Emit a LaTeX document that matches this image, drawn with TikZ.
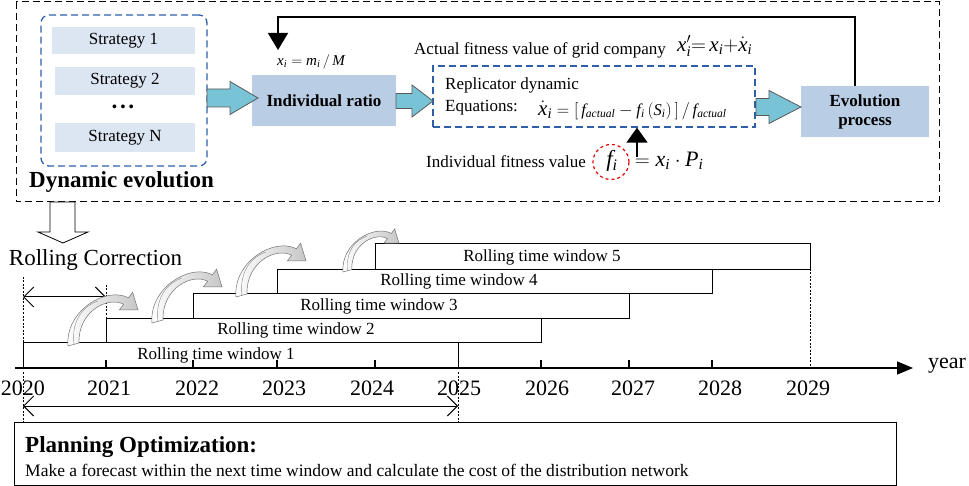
\documentclass[tikz,border=0pt]{standalone}
\usepackage{fontspec}
\setmainfont{Liberation Serif}
\usetikzlibrary{arrows.meta,calc,shapes.geometric}
\definecolor{stratfill}{RGB}{220,230,242}
\definecolor{boxfill}{RGB}{185,205,229}
\definecolor{dashblue}{RGB}{46,96,170}
\definecolor{fatfill}{RGB}{120,196,214}
\newcommand{\fsz}[1]{\fontsize{#1}{#1}\selectfont}
\newcommand{\mi}[1]{\mathit{#1}}
\newcommand{\fatarrow}[6]{\draw[fat] (#1,#4-#5) -- (#3,#4-#5) -- (#3,#4-#6) -- (#2,#4) -- (#3,#4+#6) -- (#3,#4+#5) -- (#1,#4+#5) -- cycle;}
\tikzset{
  lbl/.style={inner sep=0pt, font=\fsz{17}},
  stratbox/.style={fill=stratfill, inner sep=0pt, font=\fsz{17}},
  bluebox/.style={fill=boxfill, inner sep=0pt, font=\fsz{17}\bfseries, align=center},
  fat/.style={fill=fatfill, draw=black!65, line width=0.8pt},
  outerdash/.style={draw, line width=1pt, dash pattern=on 7pt off 4pt},
  bluedash/.style={draw=dashblue, line width=1.3pt, dash pattern=on 7pt off 4pt},
  win/.style={draw, line width=1.2pt},
  dotv/.style={line width=1pt, dash pattern=on 2pt off 1.5pt},
  dimarrow/.style={{Straight Barb[length=10pt,width=20pt]}-{Straight Barb[length=10pt,width=20pt]}, line width=1pt},
  curv/.style={left color=white, right color=black!22, draw=black!55, line width=0.5pt},
  curvarrow/.pic={
    \path[curv] (0,0) .. controls (-3,-35) and (38,-60) .. (60.4,-48.2)
      -- (64.6,-53.8) -- (70,-36) -- (51.4,-36.2) -- (55.6,-41.8)
      .. controls (40,-50) and (10,-35) .. (11,-3) -- cycle;
    \draw[black!45, line width=0.4pt] (6,-1.5) .. controls (3,-25) and (15,-40) .. (30,-45);
  }
}
\begin{document}
\begin{tikzpicture}[x=1pt,y=-1pt]
\useasboundingbox (0,0) rectangle (969,486);
% ---------- top dashed frame ----------
\draw[outerdash] (16,2) rectangle (939,202);
% strategy container
\node[bluedash, rounded corners=8pt, minimum width=166pt, minimum height=151pt, inner sep=0pt] (strat) at (124,90.5) {};
\node[stratbox, minimum width=143pt, minimum height=27pt] (s1) at (123.5,40.5) {Strategy 1};
\node[stratbox, minimum width=140pt, minimum height=28pt] (s2) at (125,81) {Strategy 2};
\node[inner sep=0pt, font=\fsz{14}\bfseries] (sdots) at (123,108) {• • •};
\node[stratbox, minimum width=140pt, minimum height=29pt] (sN) at (125,137.5) {Strategy N};
\node[inner sep=0pt, font=\fsz{23}\bfseries] (dyn) at (121.5,182) {Dynamic evolution};
% individual ratio
\node[bluebox, minimum width=144pt, minimum height=51pt] (ratio) at (324,100.5) {Individual ratio};
\node[inner sep=0pt, font=\fsz{15}] (xlab) at (311,62) {$\mi{x}_{\mi{i}} = \mi{m}_{\mi{i}}\,/\,\mi{M}$};
% replicator
\node[bluedash, minimum width=322pt, minimum height=61pt, inner sep=0pt] (rep) at (594,96.5) {};
\node[lbl, anchor=west] (replab) at (445,85) {Replicator dynamic};
\node[lbl, anchor=west] (eqlab) at (445,108) {Equations:};
\node[inner sep=0pt, anchor=west] (eq) at (538,110) {{\fsz{21}$\dot{\mi{x}}_{\mi{i}}$}{\fsz{16.5}${}=[\,\mi{f}_{\mi{actual}} - \mi{f}_{\mi{i}}\,(\mi{S}_{\mi{i}})\,]\,/\,\mi{f}_{\mi{actual}}$}};
% evolution
\node[bluebox, minimum width=128pt, minimum height=51pt] (evo) at (865,111.5) {Evolution\\[2pt]process};
% labels
\node[lbl, anchor=west] (actual) at (414,50) {Actual fitness value of grid company};
\node[inner sep=0pt, anchor=west, font=\fsz{21}] (xprime) at (677,46) {$\mi{x}_{\mi{i}}'{=}\,\mi{x}_{\mi{i}}{+}\dot{\mi{x}}_{\mi{i}}$};
\node[lbl, anchor=west] (indfit) at (426,162) {Individual fitness value};
\node[draw=red!90!black, dashed, ellipse, line width=1.2pt, minimum width=36pt, minimum height=35pt, inner sep=0pt] (fic) at (611,162) {};
\node[inner sep=0pt, font=\fsz{23}] (fi) at (612,161) {$\mi{f}_{\mi{i}}$};
\node[inner sep=0pt, anchor=west, font=\fsz{22}] (fieq) at (629,161) {${}= \mi{x}_{\mi{i}}\cdot \mi{P}_{\mi{i}}$};
% fat arrows
\fatarrow{207}{258}{230}{98}{9}{16.5}
\fatarrow{396}{433}{412}{101}{7.5}{16}
\fatarrow{756}{801}{769}{107}{8.5}{16.5}
% feedback
\coordinate (fbend) at (278,50);
\draw[line width=1.5pt, -{Triangle[width=20pt,length=17pt]}] ([xshift=-10pt]evo.north) |- (278,17) -- (fbend);
\coordinate (fibase) at (637,157);
\draw[line width=1.5pt, -{Triangle[width=21pt,length=15pt]}] (fibase) -- (fibase |- rep.south);
% ---------- hollow down arrow ----------
\draw[line width=0.8pt, fill=white] (50,202) -- (75,202) -- (75,232) -- (88,232) -- (63,243) -- (38,232) -- (50,232) -- cycle;
\node[inner sep=0pt, font=\fsz{23}] (rc) at (95.5,260) {Rolling Correction};
\coordinate (rc1) at (23,297);
\coordinate (rc2) at (106,297);
\draw[dimarrow] (rc1) -- (rc2);
\draw[dotv] (23,277) -- (23,342);
\draw[dotv] (106,285) -- (106,318);
% ---------- windows ----------
\node[win, anchor=north west, minimum width=435pt, minimum height=26pt, inner sep=0pt] (w1) at (23,342) {};
\node[win, anchor=north west, minimum width=435pt, minimum height=24pt, inner sep=0pt] (w2) at (106,318) {};
\node[win, anchor=north west, minimum width=436pt, minimum height=25pt, inner sep=0pt] (w3) at (193,293) {};
\node[win, anchor=north west, minimum width=435pt, minimum height=24pt, inner sep=0pt] (w4) at (277,269) {};
\node[win, anchor=north west, minimum width=435pt, minimum height=26pt, inner sep=0pt] (w5) at (375,243) {};
\node[lbl] (l1) at (216,355) {Rolling time window 1};
\node[lbl] (l2) at (296,330) {Rolling time window 2};
\node[lbl] (l3) at (379,306) {Rolling time window 3};
\node[lbl] (l4) at (459,281) {Rolling time window 4};
\node[lbl] (l5) at (542,257) {Rolling time window 5};
% curved arrows
\pic at (68,346) {curvarrow};
\pic at (152,323) {curvarrow};
\pic at (236,297) {curvarrow};
\pic[scale=0.8] at (343,272) {curvarrow};
% ---------- axis ----------
\coordinate (ax0) at (15,368);
\coordinate (ax1) at (913,368);
\draw[line width=1.5pt, -{Triangle[width=13pt,length=16pt]}] (ax0) -- (ax1);
\foreach \x in {106,193,277,375,541,629,712} \draw[line width=1.2pt] (\x,360) -- (\x,368);
\draw[dotv] (810,269) -- (810,368);
\node[inner sep=0pt, font=\fsz{22}, anchor=west] (yearlab) at (928,366) {year};
\foreach \yr/\x in {2020/23,2021/109,2022/197,2023/284,2024/372,2025/459,2026/547,2027/633,2028/720,2029/808}
  \node[inner sep=0pt, font=\fsz{22}] (y\yr) at (\x,388) {\yr};
% ---------- lower ----------
\draw[dotv] (23,372) -- (23,422);
\draw[dotv] (458,372) -- (458,422);
\coordinate (pa1) at (23,406);
\coordinate (pa2) at (458,406);
\draw[dimarrow] (pa1) -- (pa2);
\node[draw, line width=1pt, anchor=north west, minimum width=882pt, minimum height=63pt, inner sep=0pt] (plan) at (14,422) {};
\node[inner sep=0pt, anchor=west, font=\fsz{23}\bfseries] (plant) at (25,447) {Planning Optimization:};
\node[inner sep=0pt, anchor=west, font=\fsz{17.5}] (plant2) at (25,470) {Make a forecast within the next time window and calculate the cost of the distribution network};
\end{tikzpicture}
\end{document}
